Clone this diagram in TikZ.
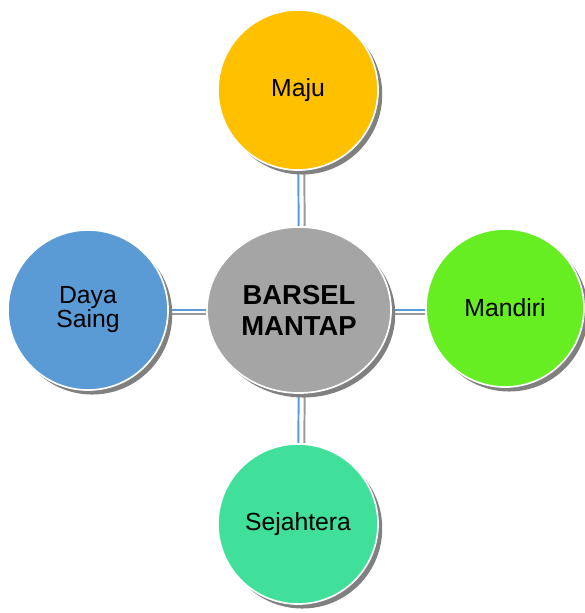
\documentclass[tikz,border=0pt]{standalone}
\usepackage{fontspec}
\setmainfont{Liberation Sans}
\usetikzlibrary{shapes.geometric, shadows, backgrounds}
\definecolor{majucol}{HTML}{FFC000}
\definecolor{barselcol}{HTML}{A5A5A5}
\definecolor{dayacol}{HTML}{5B9BD5}
\definecolor{mandiricol}{HTML}{66EE22}
\definecolor{sejahteracol}{HTML}{40E09A}
\definecolor{linkcol}{HTML}{5B9BD5}
\definecolor{linkshadow}{HTML}{9A9A9A}

\begin{document}
\begin{tikzpicture}[x=0.025cm, y=-0.025cm,
    bubble/.style={circle, draw=white, line width=1.2pt, minimum size=4cm,
                   inner sep=0pt, align=center, font=\fontsize{17.6}{17}\selectfont,
                   drop shadow={shadow xshift=3pt, shadow yshift=-3.2pt,
                                fill=black!50, opacity=1}},
    hub/.style={bubble, ellipse, minimum width=4.6cm, minimum height=4.15cm,
                font=\fontsize{19.5}{22}\selectfont\bfseries},
    vlink/.style={draw=linkcol, line width=1.4pt,
                  preaction={draw=linkshadow, line width=1.4pt,
                             transform canvas={shift={(6,0)}}}},
    hlink/.style={draw=linkcol, line width=1.4pt,
                  preaction={draw=linkshadow, line width=1.4pt,
                             transform canvas={shift={(0,4)}}}}]
  \useasboundingbox (0,0) rectangle (585,613);

  \node[hub, fill=barselcol] (barsel) at (299,310) {BARSEL\\MANTAP};
  \node[bubble, fill=majucol] (maju) at (298,90) {Maju};
  \node[bubble, fill=dayacol] (daya) at (88,310) {Daya\\Saing};
  \node[bubble, fill=mandiricol, minimum size=3.95cm] (mandiri) at (505,308) {Mandiri};
  \node[bubble, fill=sejahteracol] (sejahtera) at (298,524) {Sejahtera};

  \begin{scope}[on background layer]
    \draw[vlink] (maju) -- (barsel);
    \draw[vlink] (barsel) -- (sejahtera);
    \draw[hlink] (daya) -- (barsel);
    \draw[hlink] (barsel) -- (mandiri.west |- barsel);
  \end{scope}
\end{tikzpicture}
\end{document}
